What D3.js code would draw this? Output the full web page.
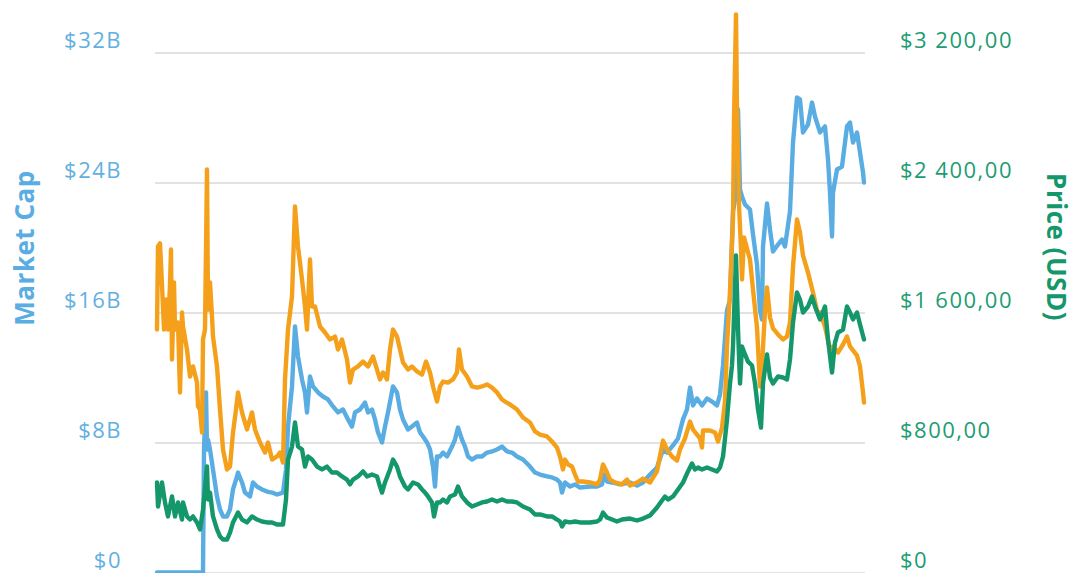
<!DOCTYPE html>
<html>
<head>
<meta charset="utf-8">
<script src="https://cdn.jsdelivr.net/npm/d3@7"></script>
<style>
  html, body { margin: 0; padding: 0; background: #ffffff; }
  svg { display: block; }
  .tick-label { font-family: "Open Sans", "Noto Sans", sans-serif; font-size: 22px; letter-spacing: 1.5px; }
  .axis-title { font-family: "Open Sans", "Noto Sans", sans-serif; font-size: 26px; font-weight: 700; letter-spacing: 0.5px; }
</style>
</head>
<body>
<svg id="chart" width="1075" height="573"></svg>
<script>
// Tick values for the two value axes
const capTicks = [0, 8, 16, 24, 32];          // market cap, billions of USD
const priceTicks = [0, 800, 1600, 2400, 3200]; // price, USD

// Market cap, [day, billions USD]
const marketCap = [
  [0,0],[46,0],[47,7.57],[49,11.08],[50,7.57],[51,8.18],[53,7.57],[56,6.34],[60,4.68],[63,3.88],
  [66,3.45],[70,3.45],[73,3.88],[76,5.11],[80,5.91],[81,6.15],[85,5.54],[88,4.92],[93,4.68],[96,5.54],
  [100,5.29],[105,5.11],[110,4.98],[115,4.92],[120,4.80],[126,4.92],[129,6.34],[131,8.98],[135,11.45],[138,15.14],
  [141,13.29],[145,11.88],[148,11.08],[150,9.85],[153,12.06],[156,11.45],[161,11.08],[166,10.83],[171,10.65],[176,10.22],
  [181,9.85],[186,10.03],[191,9.42],[195,8.98],[198,9.85],[203,10.03],[208,10.46],[211,9.85],[215,10.03],[218,9.42],
  [221,8.62],[225,8.00],[228,8.98],[231,9.85],[236,11.45],[240,11.08],[243,10.03],[246,9.42],[251,8.80],[255,8.98],
  [260,9.23],[263,8.62],[266,8.37],[270,8.00],[273,7.57],[276,6.52],[278,5.29],[280,7.14],[283,7.14],[286,7.38],
  [290,7.14],[295,7.75],[298,8.18],[301,8.92],[305,8.18],[308,7.75],[311,7.14],[315,6.95],[320,7.14],[325,7.14],
  [330,7.38],[335,7.45],[340,7.57],[345,7.75],[350,7.45],[355,7.38],[360,7.14],[366,6.95],[373,6.52],[378,6.15],
  [383,6.03],[390,5.91],[395,5.85],[400,5.72],[403,5.54],[405,4.92],[408,5.54],[413,5.29],[418,5.42],[423,5.23],
  [433,5.29],[440,5.29],[445,5.42],[447,6.03],[450,5.60],[455,5.54],[463,5.42],[473,5.54],[480,5.35],[486,5.54],
  [493,6.03],[500,6.46],[506,7.57],[510,7.38],[516,7.82],[521,8.25],[526,9.42],[530,10.03],[533,11.38],[536,10.28],
  [540,10.71],[545,10.28],[550,10.71],[555,10.52],[560,10.28],[563,10.95],[566,12.74],[570,16.12],[573,16.80],[576,22.22],
  [578,22.95],[581,28.49],[583,23.57],[585,23.14],[588,22.65],[593,22.34],[596,20.80],[600,18.95],[603,16.12],[605,15.57],
  [606,20.06],[610,22.71],[613,21.11],[616,19.75],[621,20.18],[625,20.49],[628,20.06],[633,22.22],[636,26.46],[640,29.23],
  [643,29.11],[646,27.08],[651,27.57],[655,28.92],[658,28.06],[663,27.08],[668,27.45],[671,25.42],[673,23.38],[675,20.68],
  [676,23.38],[680,24.80],[685,24.98],[690,27.45],[693,27.69],[696,26.46],[700,27.08],[703,25.85],[706,24.62],[707,24.00]
];

// Price, [day, USD]
const price = [
  [0,554],[1,406],[5,554],[8,431],[11,345],[15,468],[18,345],[21,431],[25,326],[26,431],
  [30,345],[33,326],[36,345],[40,308],[43,265],[45,345],[46,388],[50,652],[51,449],[53,492],
  [56,345],[60,265],[63,222],[66,203],[70,203],[73,246],[76,308],[81,369],[85,326],[90,308],
  [95,345],[100,326],[105,314],[110,308],[115,308],[120,295],[126,295],[129,449],[131,695],[135,775],
  [138,923],[141,775],[145,757],[148,652],[151,714],[155,695],[160,652],[165,634],[170,652],[175,615],
  [180,615],[185,591],[190,572],[193,542],[196,572],[201,591],[206,622],[210,591],[215,603],[220,591],
  [223,529],[225,492],[228,554],[233,634],[236,695],[240,652],[243,591],[248,529],[251,511],[256,554],
  [261,542],[265,511],[268,492],[271,468],[275,431],[277,345],[280,431],[283,431],[286,449],[290,431],
  [293,468],[298,480],[301,529],[305,468],[310,431],[315,406],[320,418],[325,431],[330,437],[335,449],
  [340,437],[345,449],[350,437],[355,437],[360,431],[366,406],[373,388],[378,357],[383,357],[390,345],
  [395,345],[400,326],[403,314],[405,283],[408,314],[413,308],[418,314],[423,308],[433,308],[440,314],
  [443,326],[446,369],[450,338],[455,326],[460,314],[465,326],[473,332],[480,320],[486,332],[493,351],
  [500,400],[505,443],[508,468],[511,449],[516,468],[521,511],[526,554],[531,622],[535,671],[538,634],
  [541,646],[545,634],[550,646],[555,634],[560,622],[563,646],[566,714],[568,825],[570,942],[573,1163],
  [575,1274],[576,1391],[579,1951],[581,1502],[583,1163],[585,1391],[588,1342],[591,1298],[595,1274],[598,1163],
  [601,1003],[604,892],[606,1163],[610,1342],[613,1200],[616,1163],[621,1206],[626,1200],[630,1188],[633,1311],
  [636,1538],[640,1723],[643,1680],[646,1600],[651,1637],[655,1698],[658,1637],[663,1557],[668,1637],[671,1434],
  [675,1231],[678,1415],[681,1477],[686,1495],[690,1637],[693,1600],[696,1557],[700,1600],[703,1526],[707,1434]
];

// Volume, [day, billions USD]
const volume = [
  [0,14.95],[1,20.06],[3,20.25],[5,17.72],[7,14.95],[9,16.80],[11,14.95],[13,17.72],[14,19.88],[15,13.11],
  [17,17.85],[18,14.95],[21,15.38],[23,11.08],[25,16.00],[26,15.14],[30,13.72],[33,12.06],[36,12.68],[40,11.69],
  [41,10.22],[43,10.03],[45,8.62],[46,14.34],[48,14.95],[50,24.80],[51,16.18],[53,17.85],[55,15.75],[56,14.52],
  [60,12.68],[63,10.03],[66,7.57],[70,6.34],[73,6.52],[76,8.62],[79,10.03],[81,11.08],[85,9.85],[90,8.80],
  [95,9.85],[98,8.80],[103,8.00],[108,7.38],[111,8.00],[115,6.95],[120,7.14],[123,7.38],[126,6.77],[128,11.88],
  [131,14.95],[135,16.98],[138,22.52],[141,20.06],[145,18.03],[148,16.37],[150,14.95],[153,19.26],[155,16.37],[158,16.37],
  [163,15.14],[168,14.77],[173,14.34],[178,14.52],[181,13.72],[185,14.34],[190,13.11],[193,11.69],[196,12.49],[201,12.68],
  [206,12.98],[211,12.68],[216,13.29],[220,12.49],[223,11.88],[226,12.31],[230,11.88],[233,13.72],[236,14.95],[240,14.52],
  [243,13.72],[246,12.92],[251,12.49],[255,12.68],[260,12.37],[265,12.18],[269,12.98],[273,12.31],[276,11.45],[280,10.52],
  [283,11.45],[286,11.75],[291,11.69],[296,11.88],[300,12.31],[302,13.72],[305,12.49],[310,12.06],[315,11.45],[320,11.38],
  [325,11.45],[330,11.57],[335,11.38],[340,11.08],[345,10.65],[348,10.52],[353,10.34],[360,10.03],[366,9.54],[373,9.23],
  [378,8.68],[383,8.49],[390,8.37],[395,8.06],[400,7.69],[403,7.14],[406,6.34],[408,6.95],[411,6.65],[415,6.52],
  [418,6.03],[421,5.60],[426,5.60],[433,5.54],[440,5.42],[443,5.72],[446,6.65],[450,6.15],[453,5.72],[458,5.54],
  [465,5.42],[470,5.72],[473,5.35],[480,5.54],[486,5.78],[493,5.54],[500,6.22],[506,8.12],[510,7.57],[515,7.14],
  [520,6.89],[523,7.57],[528,8.25],[533,9.29],[536,8.80],[540,8.49],[543,8.25],[545,7.69],[546,8.74],[553,8.74],
  [558,8.62],[561,8.06],[565,8.92],[568,10.52],[570,13.91],[573,17.29],[576,21.78],[577,27.88],[579,34.34],[580,28.49],
  [582,22.65],[584,19.88],[585,18.03],[587,20.62],[590,19.94],[593,19.26],[596,17.42],[600,15.08],[603,11.45],[605,12.74],
  [608,16.12],[610,17.54],[613,15.69],[616,15.02],[621,14.65],[626,14.34],[630,14.52],[633,15.38],[636,18.83],[640,21.72],
  [643,20.92],[646,19.51],[651,18.46],[656,17.23],[660,16.12],[663,16.00],[668,15.14],[673,13.72],[676,13.91],[681,13.54],
  [686,14.03],[690,14.52],[693,13.91],[700,13.35],[703,12.68],[706,11.08],[707,10.46]
];

const colors = { cap: "#5aade2", price: "#13976b", volume: "#f5a01a" };

const svg = d3.select("#chart");
const plot = { left: 155, right: 865, top: 52.5, bottom: 572.5 };

const x = d3.scaleLinear().domain([0, 707]).range([157, 864]);
const yCap = d3.scaleLinear().domain([0, 32]).range([plot.bottom, plot.top]);
const yPrice = d3.scaleLinear().domain([0, 3200]).range([plot.bottom, plot.top]);

// Horizontal grid
svg.append("g")
  .attr("transform", `translate(${plot.left},0)`)
  .call(d3.axisLeft(yCap).tickValues(capTicks).tickSize(-(plot.right - plot.left)).tickFormat(""))
  .call(g => g.select(".domain").remove())
  .call(g => g.selectAll("line").attr("stroke", "#e2e2e2").attr("stroke-width", 2));

// Left axis labels
const capFmt = d => d === 0 ? "$0" : `$${d}B`;
svg.append("g")
  .attr("transform", "translate(122,0)")
  .call(d3.axisLeft(yCap).tickValues(capTicks).tickSize(0).tickPadding(0).tickFormat(capFmt))
  .call(g => g.select(".domain").remove())
  .call(g => g.selectAll("text")
    .attr("class", "tick-label")
    .attr("fill", "#62b0df")
    .attr("dy", null)
    .attr("y", -5));

// Right axis labels
const locale = d3.formatLocale({ decimal: ",", thousands: "\u00a0", grouping: [3], currency: ["$", ""] });
const money = locale.format("$,.2f");
const priceFmt = d => d === 0 ? "$0" : money(d);
svg.append("g")
  .attr("transform", "translate(900,0)")
  .call(d3.axisRight(yPrice).tickValues(priceTicks).tickSize(0).tickPadding(0).tickFormat(priceFmt))
  .call(g => g.select(".domain").remove())
  .call(g => g.selectAll("text")
    .attr("class", "tick-label")
    .attr("fill", "#1d9c72")
    .attr("dy", null)
    .attr("y", -5));

svg.selectAll("g").attr("font-size", null).attr("font-family", null);

// Axis titles
svg.append("text")
  .attr("class", "axis-title")
  .attr("transform", "translate(34,248) rotate(-90)")
  .attr("text-anchor", "middle")
  .attr("fill", "#5aade2")
  .text("Market Cap");

svg.append("text")
  .attr("class", "axis-title")
  .attr("transform", "translate(1047,247) rotate(90)")
  .attr("text-anchor", "middle")
  .attr("fill", "#13976b")
  .text("Price (USD)");

// Series lines
const capLine = d3.line().x(d => x(d[0])).y(d => yCap(d[1]));
const priceLine = d3.line().x(d => x(d[0])).y(d => yPrice(d[1]));

function drawLine(data, gen, color) {
  svg.append("path")
    .datum(data)
    .attr("d", gen)
    .attr("fill", "none")
    .attr("stroke", color)
    .attr("stroke-width", 4.4)
    .attr("stroke-linejoin", "round")
    .attr("stroke-linecap", "round");
}

drawLine(marketCap, capLine, colors.cap);
drawLine(volume, capLine, colors.volume);
drawLine(price, priceLine, colors.price);
</script>
</body>
</html>
